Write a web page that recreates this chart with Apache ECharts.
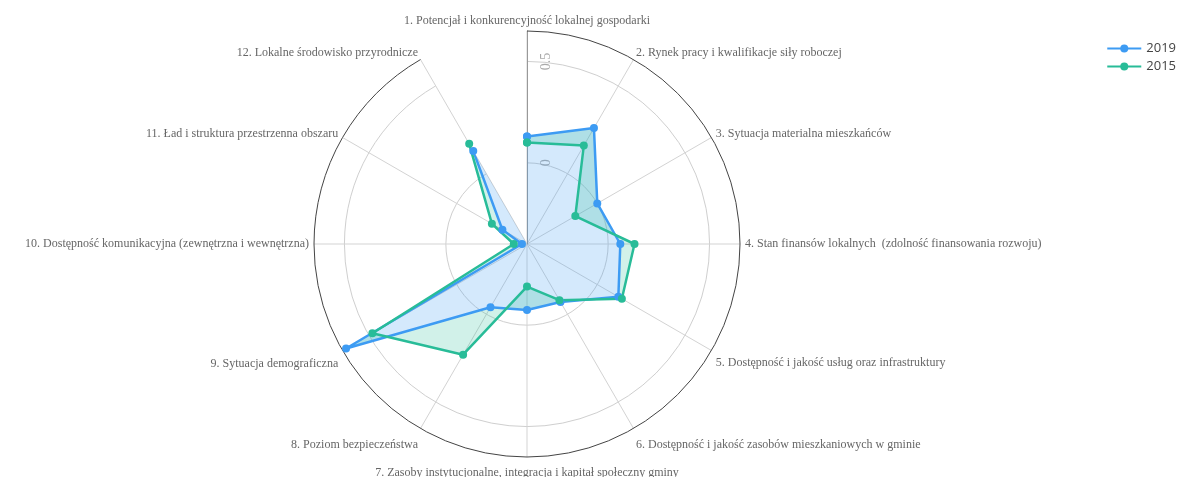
<!DOCTYPE html>
<html>
<head>
<meta charset="utf-8">
<script src="https://cdn.jsdelivr.net/npm/echarts@6/dist/echarts.min.js"></script>
<style>
  html, body { margin: 0; padding: 0; background: #fff; }
  #chart { width: 1183px; height: 477px; }
</style>
</head>
<body>
<div id="chart"></div>
<script>
const categories = [
  '1. Potencjał i konkurencyjność lokalnej gospodarki',
  '2. Rynek pracy i kwalifikacje siły roboczej',
  '3. Sytuacja materialna mieszkańców',
  '4. Stan finansów lokalnych  (zdolność finansowania rozwoju)',
  '5. Dostępność i jakość usług oraz infrastruktury',
  '6. Dostępność i jakość zasobów mieszkaniowych w gminie',
  '7. Zasoby instytucjonalne, integracja i kapitał społeczny gminy',
  '8. Poziom bezpieczeństwa',
  '9. Sytuacja demograficzna',
  '10. Dostępność komunikacyjna (zewnętrzna i wewnętrzna)',
  '11. Ład i struktura przestrzenna obszaru',
  '12. Lokalne środowisko przyrodnicze'
];
const values2019 = [0.13, 0.26, 0.0, 0.06, 0.12, -0.07, -0.075, -0.04, 0.63, -0.375, -0.26, 0.13];
const values2015 = [0.10, 0.16, -0.125, 0.13, 0.14, -0.08, -0.19, 0.23, 0.48, -0.335, -0.2, 0.17];
const radialTicks = [0, 0.5];
const seriesNames = ['2019', '2015'];

const blue = '#3d9bf3';
const teal = '#28bc98';

function closed(vals) {
  const out = vals.map((v, i) => [v, i]);
  out.push([vals[0], 0]);
  return out;
}
// 2015 is filled "to next": stacked on 2019, its area is the band between both lines
const delta2015 = values2015.map((v, i) => v - values2019[i]);

// per-label line heights (shift text vertically like the reference)
const labelLH = [10, 4, 2, 14, 20, 24, 22, 24, 22, 14, 2, 4];
const rich = {};
labelLH.forEach((lh, i) => { rich['l' + i] = { lineHeight: lh, fontFamily: 'Liberation Serif', fontSize: 12, color: '#666' }; });

// radius split rings only at 0 and 0.5 (ticks every 0.05 from -0.4)
const ringColors = [];
for (let i = 0; i < 10; i++) ringColors.push(i === 8 ? '#cfcfcf' : 'rgba(0,0,0,0)');

const chart = echarts.init(document.getElementById('chart'), null, { renderer: 'canvas' });
chart.setOption({
  animation: false,
  backgroundColor: '#fff',
  legend: {
    orient: 'vertical',
    right: 2,
    top: 37,
    itemWidth: 34,
    itemHeight: 10,
    itemGap: 5,
    data: seriesNames,
    textStyle: { fontFamily: 'Open Sans', fontSize: 13, color: '#444' }
  },
  polar: { center: [527, 244], radius: 213 },
  angleAxis: {
    type: 'category',
    data: categories,
    boundaryGap: false,
    startAngle: 90,
    clockwise: true,
    axisLine: { show: true, lineStyle: { color: '#444', width: 1 } },
    axisTick: { show: false },
    splitLine: { show: true, lineStyle: { color: '#d3d3d3', width: 1 } },
    axisLabel: {
      margin: 5, fontFamily: 'Liberation Serif', fontSize: 12, color: '#666',
      formatter: function (v, i) { return '{l' + i + '|' + v + '}'; },
      rich: rich
    }
  },
  radiusAxis: {
    type: 'value',
    min: -0.4,
    max: 0.65,
    interval: 0.05,
    axisLine: { show: true, lineStyle: { color: '#999', width: 1 } },
    axisTick: { show: false },
    splitLine: { show: true, lineStyle: { color: ringColors, width: 1 } },
    axisLabel: {
      rotate: 90,
      margin: -26,
      hideOverlap: false,
      fontFamily: 'Liberation Serif',
      fontSize: 14,
      color: '#aaa',
      formatter: function (v) {
        for (const t of radialTicks) { if (Math.abs(v - t) < 1e-6) return String(t); }
        return '';
      }
    }
  },
  series: [
    {
      name: seriesNames[0],
      type: 'line',
      coordinateSystem: 'polar',
      stack: 'band',
      stackStrategy: 'all',
      data: closed(values2019),
      symbol: 'circle',
      symbolSize: 8,
      lineStyle: { color: blue, width: 2.5 },
      itemStyle: { color: blue },
      areaStyle: { color: 'rgba(61,155,243,0.32)', origin: 'start' }
    },
    {
      name: seriesNames[1],
      type: 'line',
      coordinateSystem: 'polar',
      stack: 'band',
      stackStrategy: 'all',
      data: closed(delta2015),
      symbol: 'circle',
      symbolSize: 8,
      lineStyle: { color: teal, width: 2.5 },
      itemStyle: { color: teal },
      areaStyle: { color: 'rgba(40,188,152,0.3)' }
    }
  ]
});
</script>
</body>
</html>
